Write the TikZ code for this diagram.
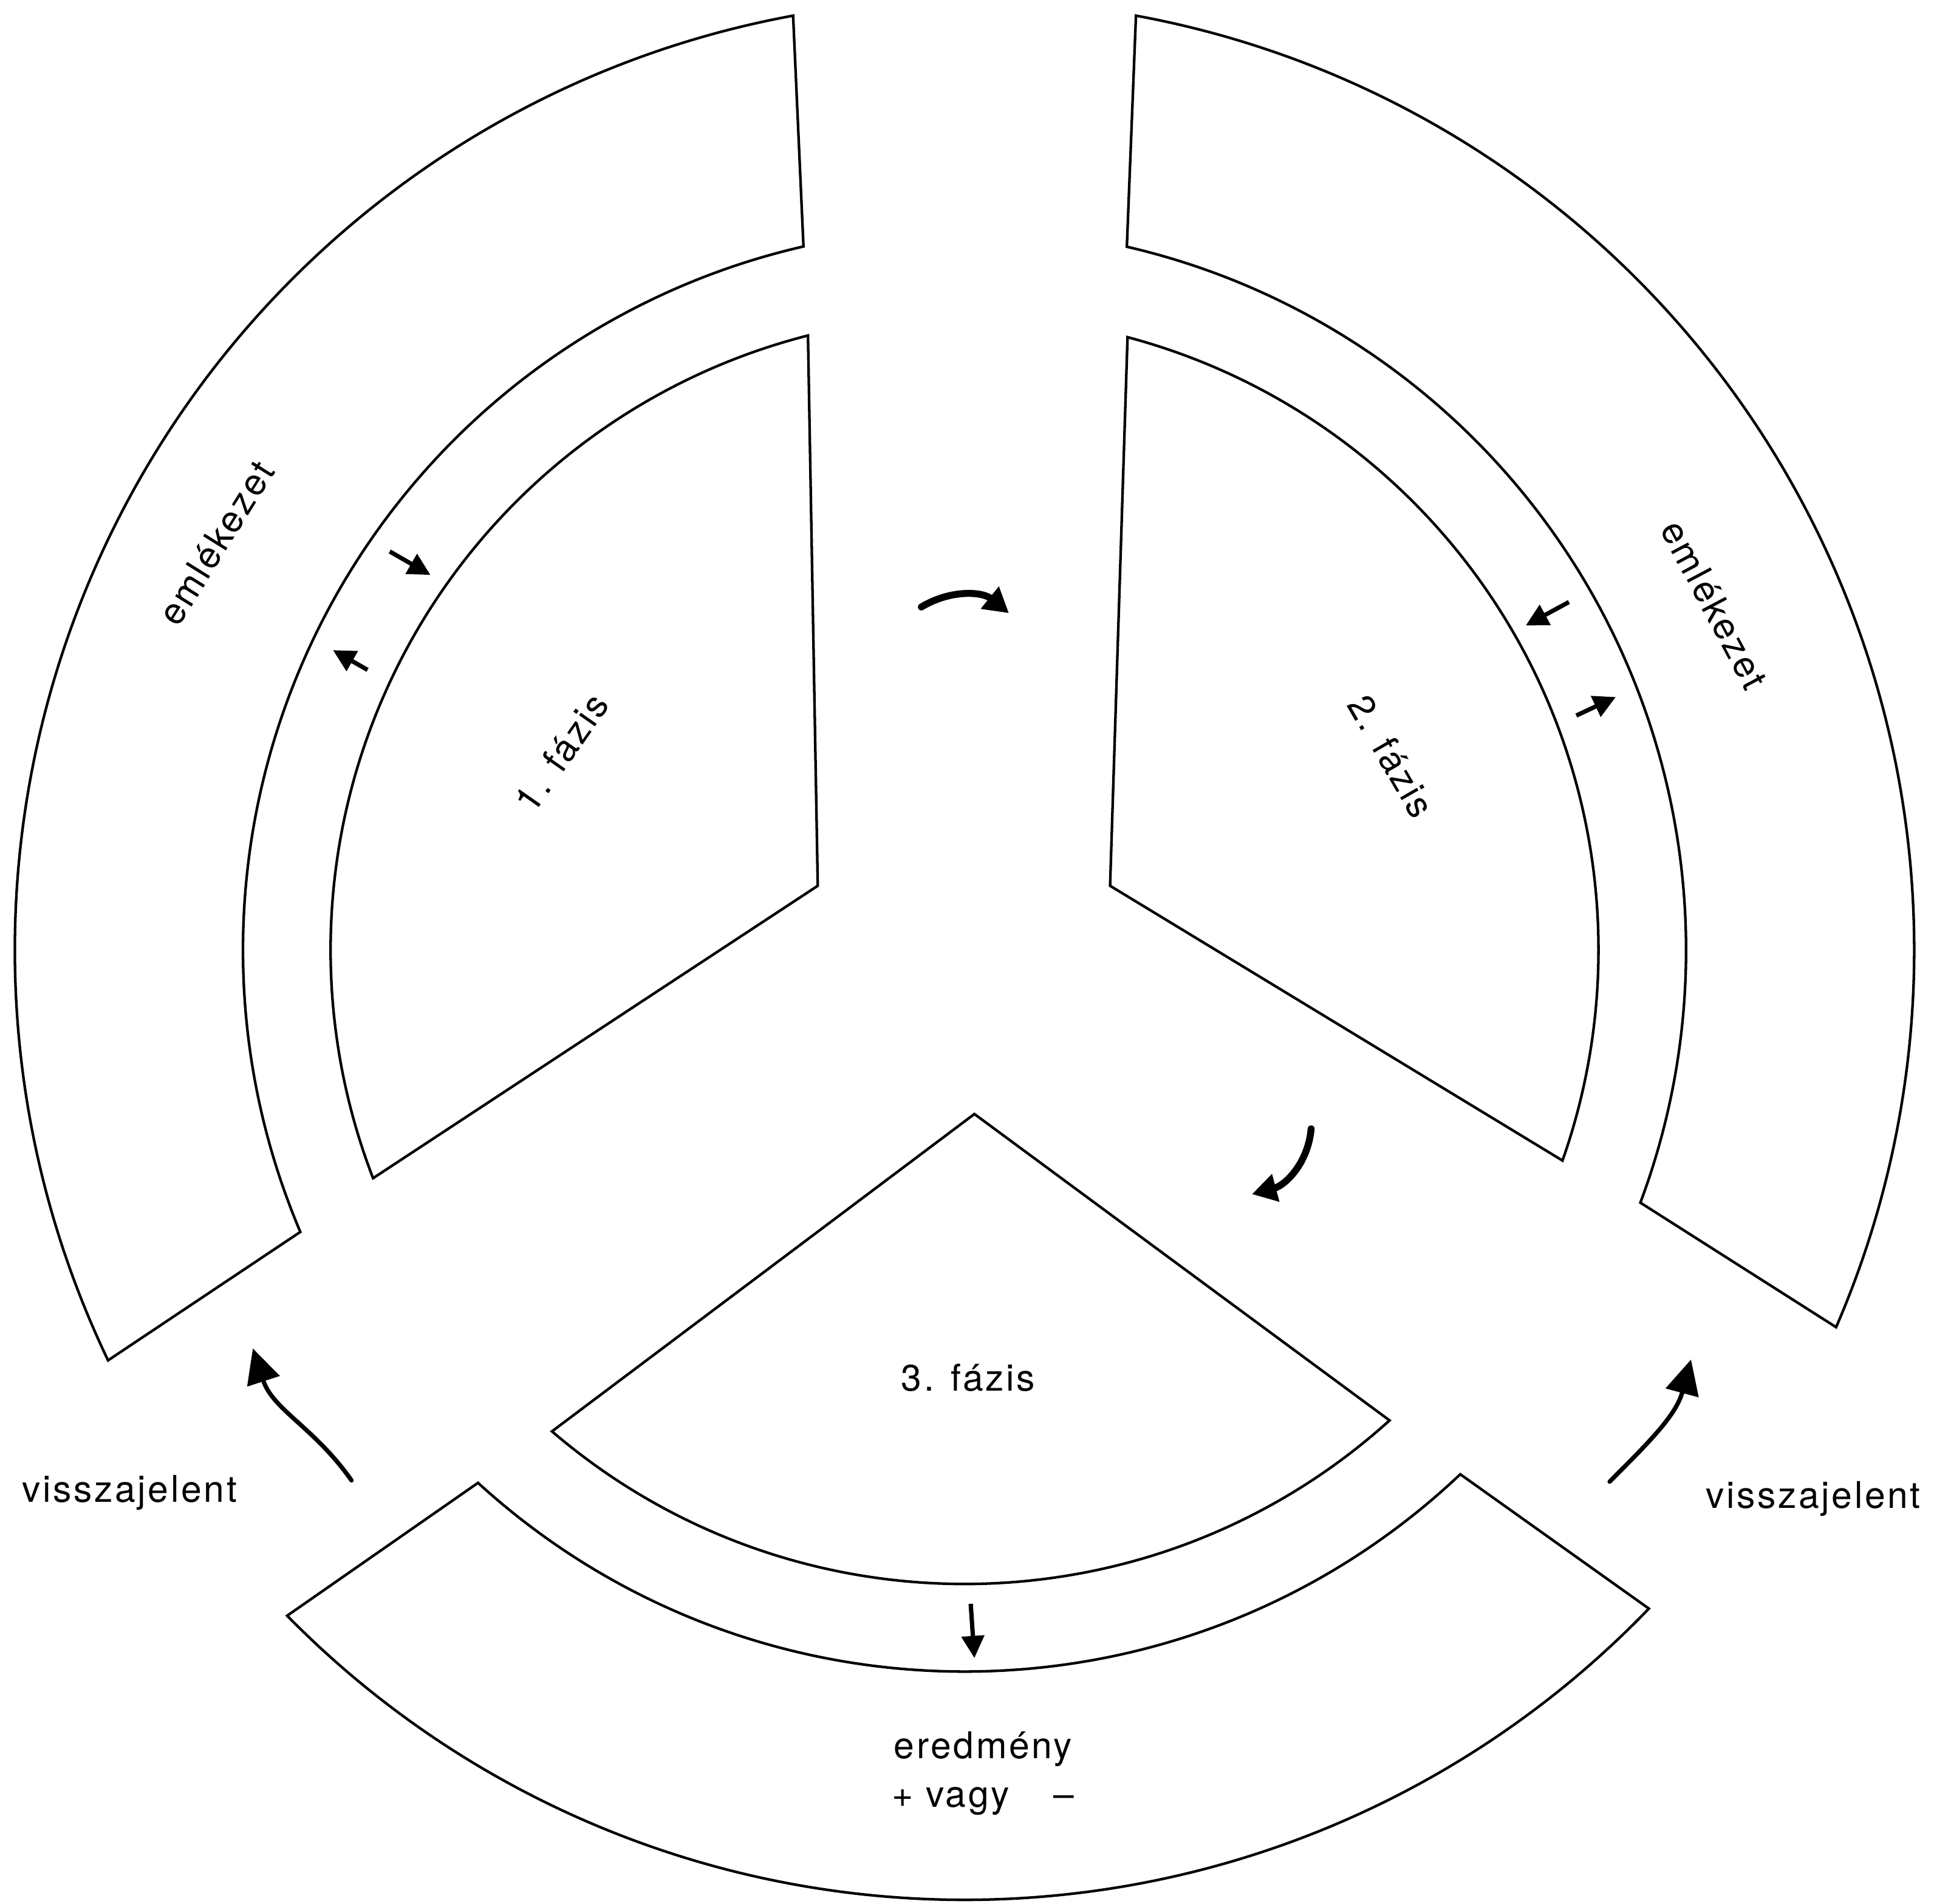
\documentclass[tikz,border=0pt]{standalone}
\usepackage{fontspec}
\setmainfont{TeX Gyre Heros}[LetterSpace=6]
\usepackage{tikz}
\usetikzlibrary{arrows.meta,positioning}
\newcommand{\ringout}{7.70}
\newcommand{\ringin}{5.85}
\newcommand{\phaserad}{5.14}
\tikzset{
  ringpart/.style={draw=black,line width=0.6pt,line join=miter},
  phasepart/.style={draw=black,line width=0.6pt,line join=miter},
  ringlabel/.style={font=\fontsize{8.5}{10}\selectfont,inner sep=1pt},
  turnarr/.style={-{Triangle[length=2mm,width=2.2mm]},line width=1.6pt,line cap=round},
  fbarr/.style={-{Triangle[length=2.8mm,width=2.7mm]},line width=1pt,line cap=round},
  swaparr/.style={-{Triangle[length=1.8mm,width=1.8mm]},line width=1pt}
}

\begin{document}
\begin{tikzpicture}[x=1cm,y=1cm]
  \useasboundingbox (-7.82,-7.73) rectangle (7.86,7.70);

  % outer ring: two memories and the result
  \draw[ringpart] (100.4:\ringout) arc[start angle=100.4,end angle=205.6,radius=\ringout]
    -- (203.0:\ringin) arc[start angle=203.0,end angle=102.9,radius=\ringin] -- cycle;
  \draw[ringpart] (79.6:\ringout) arc[start angle=79.6,end angle=-23.4,radius=\ringout]
    -- (-20.5:\ringin) arc[start angle=-20.5,end angle=77.0,radius=\ringin] -- cycle;
  \draw[ringpart] (224.5:\ringout) arc[start angle=224.5,end angle=316.1,radius=\ringout]
    -- (313.4:\ringin) arc[start angle=313.4,end angle=227.6,radius=\ringin] -- cycle;

  % the three phases
  \draw[phasepart] (104.3:\phaserad) arc[start angle=104.3,end angle=201.1,radius=\phaserad]
    -- (-1.19,0.52) -- cycle;
  \draw[phasepart] (75.1:\phaserad) arc[start angle=75.1,end angle=-19.4,radius=\phaserad]
    -- (1.18,0.52) -- cycle;
  \draw[phasepart] (229.4:\phaserad) arc[start angle=229.4,end angle=312.1,radius=\phaserad]
    -- (0.08,-1.33) -- cycle;

  \node[ringlabel,rotate=58] (memleft) at (-6.07,3.30) {emlékezet};
  \node[ringlabel,rotate=-62] (memright) at (6.08,2.80) {emlékezet};
  \node[ringlabel,rotate=55] (phaseone) at (-3.27,1.60) {1. fázis};
  \node[ringlabel,rotate=-60] (phasetwo) at (3.46,1.57) {2. fázis};
  \node[ringlabel] (phasethree) at (0.03,-3.47) {3. fázis};
  \node[ringlabel] (fbleft) at (-6.77,-4.40) {visszajelent};
  \node[ringlabel] (fbright) at (6.88,-4.45) {visszajelent};
  \node[ringlabel] (result) at (0.15,-6.48) {eredmény};
  \node[ringlabel] (sign) at (0.15,-6.90) {+ vagy\hspace{1.2em}--};

  \coordinate (turnA) at (-0.35,2.78);
  \coordinate (turnB) at (0.36,2.73);
  \coordinate (turnC) at (2.81,-1.45);
  \coordinate (turnD) at (2.33,-1.98);
  \draw[turnarr] (turnA) to[bend left=35] (turnB);
  \draw[turnarr] (turnC) to[out=-95,in=15] (turnD);

  \coordinate (fbA) at (-4.97,-4.30);
  \coordinate (fbB) at (-5.77,-3.23);
  \coordinate (fbC) at (5.23,-4.31);
  \coordinate (fbD) at (5.89,-3.32);
  \draw[fbarr] (fbA) to[out=125,in=-72] (fbB);
  \draw[fbarr] (fbC) to[out=45,in=-105] (fbD);

  \coordinate (memLa) at (-4.66,3.23);
  \coordinate (memLb) at (-4.33,3.04);
  \coordinate (memLc) at (-4.84,2.27);
  \coordinate (memLd) at (-5.12,2.43);
  \coordinate (memRa) at (4.90,2.82);
  \coordinate (memRb) at (4.55,2.63);
  \coordinate (memRc) at (4.96,1.90);
  \coordinate (memRd) at (5.28,2.05);
  \coordinate (resA) at (0.05,-5.30);
  \coordinate (resB) at (0.08,-5.74);
  \draw[swaparr] (memLa) -- (memLb);
  \draw[swaparr] (memLc) -- (memLd);
  \draw[swaparr] (memRa) -- (memRb);
  \draw[swaparr] (memRc) -- (memRd);
  \draw[swaparr] (resA) -- (resB);
\end{tikzpicture}
\end{document}
